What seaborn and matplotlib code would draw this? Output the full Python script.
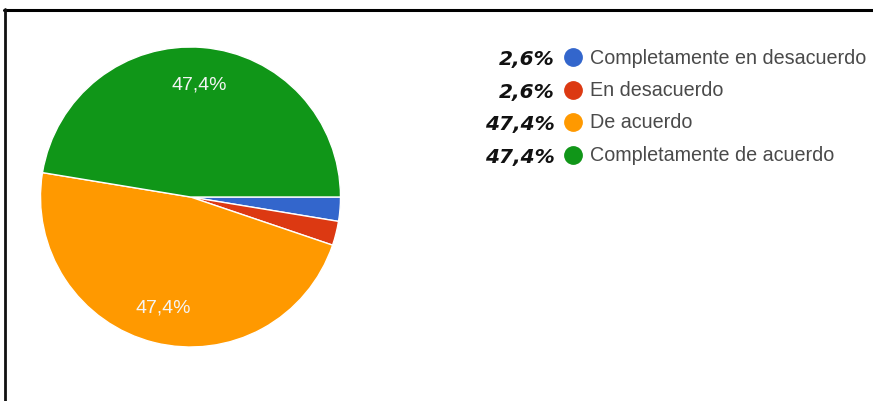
import matplotlib
matplotlib.use("Agg")
import matplotlib.pyplot as plt
from matplotlib.lines import Line2D
import seaborn as sns

# Survey answers, in drawing order (clockwise from 3 o'clock)
categories = ["Completamente en desacuerdo", "En desacuerdo", "De acuerdo",
              "Completamente de acuerdo"]
shares = [2.6, 2.6, 47.4, 47.4]
share_labels = ["2,6%", "2,6%", "47,4%", "47,4%"]

sns.set_theme(style="white")
plt.rcParams["font.family"] = ["Liberation Sans", "DejaVu Sans"]
colors = sns.color_palette(["#3366cc", "#dc3912", "#ff9900", "#109618"])

W, H = 873, 402
fig = plt.figure(figsize=(W / 100, H / 100), dpi=100)
fig.patch.set_facecolor("white")

# pie: centre (190.5, 198) px, radius 150 px
cx, cy, r = 190.5, 198, 150
ax = fig.add_axes([(cx - r) / W, (H - cy - r) / H, 2 * r / W, 2 * r / H])
wedges, texts = ax.pie(
    shares, colors=colors, startangle=0, counterclock=False, radius=1,
    labels=[f"{v:.1f}%".replace(".", ",") if v > 10 else "" for v in shares],
    labeldistance=0.755,
    wedgeprops=dict(edgecolor="white", linewidth=1.0),
    textprops=dict(color="#f4f4f4", fontsize=14),
)
for t in texts:
    t.set_ha("center")
    t.set_va("center")
ax.set_xlim(-1.0, 1.0)
ax.set_ylim(-1.0, 1.0)
ax.set_aspect("equal")
ax.axis("off")

# legend rows with handwritten-style shares
row_y = [58, 90.5, 123, 155.5]
for y, name, lab, col in zip(row_y, categories, share_labels, colors):
    fy = 1 - y / H
    fig.add_artist(Line2D([573 / W], [fy], marker="o", markersize=12.5,
                          markerfacecolor=col, markeredgecolor=col,
                          linestyle="none", transform=fig.transFigure))
    fig.text(590 / W, fy, name, ha="left", va="center", fontsize=14.2,
             color="#4a4a4a")
    fig.text(555 / W, fy - 0.004, lab, ha="right", va="center", fontsize=14.5,
             color="#111111", fontweight="bold", fontstyle="italic",
             family=["DejaVu Sans"])

# frame lines at top and left
fig.add_artist(Line2D([4 / W, 1.0], [1 - 10.5 / H, 1 - 10.5 / H],
                      color="black", linewidth=2.2, transform=fig.transFigure))
fig.add_artist(Line2D([5 / W, 5 / W], [0.0, 1 - 9.5 / H],
                      color="#111111", linewidth=2.0, transform=fig.transFigure))

fig.savefig("out.png", dpi=100, facecolor="white")
